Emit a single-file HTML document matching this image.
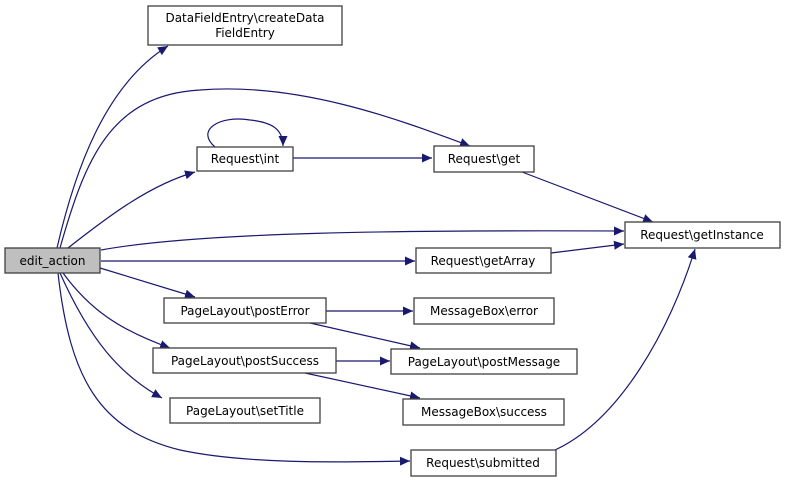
<!DOCTYPE html>
<html><head><meta charset="utf-8"><style>
html,body{margin:0;padding:0;background:#fff;width:785px;height:488px;overflow:hidden}
text{font-family:"DejaVu Sans","Liberation Sans",sans-serif;font-size:12px;fill:#000}
.n{fill:#fff;stroke:#404040;stroke-width:1.3}
.e{fill:none;stroke:#191970;stroke-width:1.2}
.a{fill:#191970;stroke:#191970}
</style></head><body>
<svg width="785" height="488" viewBox="0 0 785 488" xmlns="http://www.w3.org/2000/svg">
<defs><marker id="m" viewBox="0 0 10 10" refX="10" refY="5" markerWidth="10" markerHeight="10" markerUnits="userSpaceOnUse" orient="auto"><path d="M0,0.5L10,5L0,9.5z" fill="#191970"/></marker></defs>
<g class="e" marker-end="url(#m)">
<path d="M57,248C75,170 105,85 168,46"/>
<path d="M60,248C85,160 110,95 200,90C300,82 400,120 470,146"/>
<path d="M68,248C110,215 150,185 195,172"/>
<path d="M215,147C195,130 220,115 250,120C270,122 283,128 283,146"/>
<path d="M293,158L432,158"/>
<path d="M101,250C200,232 400,230 624,231"/>
<path d="M101,261L415,261"/>
<path d="M522,172L653,222"/>
<path d="M551,253L624,244"/>
<path d="M100,268L195,297"/>
<path d="M63,273C90,310 120,330 170,348"/>
<path d="M60,273C90,340 120,375 162,398"/>
<path d="M58,273C70,380 100,430 180,450C250,465 350,462 410,461"/>
<path d="M326,311L413,311"/>
<path d="M310,323L420,348"/>
<path d="M336,361L390,361"/>
<path d="M305,373L420,398"/>
<path d="M555,450C620,420 670,330 695,249"/>
</g>
<rect x="5" y="248" width="95" height="25" fill="#bfbfbf" stroke="#404040" stroke-width="1.3"/>
<text x="52.5" y="265" text-anchor="middle">edit_action</text>
<rect class="n" x="148" y="6" width="194" height="39"/>
<text x="245" y="22" text-anchor="middle">DataFieldEntry\createData</text>
<text x="245" y="37" text-anchor="middle">FieldEntry</text>
<rect class="n" x="197" y="147" width="96" height="24"/><text x="245" y="163" text-anchor="middle">Request\int</text>
<rect class="n" x="434" y="146" width="100" height="26"/><text x="484" y="163" text-anchor="middle">Request\get</text>
<rect class="n" x="625" y="222" width="155" height="26"/><text x="702" y="239" text-anchor="middle">Request\getInstance</text>
<rect class="n" x="416" y="248" width="135" height="25"/><text x="483" y="265" text-anchor="middle">Request\getArray</text>
<rect class="n" x="164" y="298" width="162" height="25"/><text x="245" y="315" text-anchor="middle">PageLayout\postError</text>
<rect class="n" x="414" y="298" width="140" height="26"/><text x="484" y="315" text-anchor="middle">MessageBox\error</text>
<rect class="n" x="153" y="348" width="183" height="25"/><text x="245" y="365" text-anchor="middle">PageLayout\postSuccess</text>
<rect class="n" x="391" y="349" width="186" height="25"/><text x="484" y="366" text-anchor="middle">PageLayout\postMessage</text>
<rect class="n" x="170" y="398" width="150" height="25"/><text x="245" y="415" text-anchor="middle">PageLayout\setTitle</text>
<rect class="n" x="403" y="399" width="161" height="26"/><text x="484" y="416" text-anchor="middle">MessageBox\success</text>
<rect class="n" x="411" y="450" width="145" height="26"/><text x="483" y="467" text-anchor="middle">Request\submitted</text>
</svg>
</body></html>
